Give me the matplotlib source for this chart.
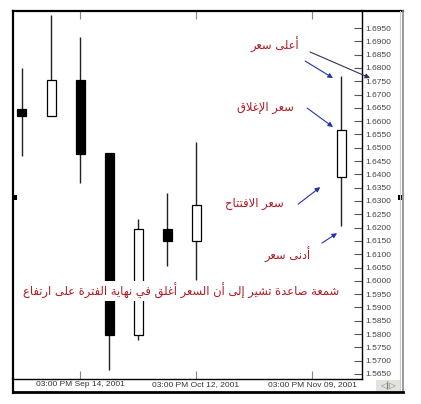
import matplotlib
matplotlib.use("Agg")
import matplotlib.pyplot as plt
from matplotlib.lines import Line2D
from matplotlib.patches import Rectangle

# =============================================================================
# Data (weekly candles, x = week number counted from the first bar)

weeks = [0, 1, 2, 3, 4, 5, 6, 11]
opens = [1.6645, 1.6619, 1.6755, 1.6480, 1.5796, 1.6194, 1.6149, 1.6390]
highs = [1.6800, 1.6999, 1.6916, 1.6480, 1.6232, 1.6330, 1.6521, 1.6770]
lows = [1.6469, 1.6619, 1.6367, 1.5665, 1.5778, 1.6055, 1.6003, 1.6206]
closes = [1.6619, 1.6755, 1.6476, 1.5796, 1.6194, 1.6149, 1.6285, 1.6567]

date_weeks = [2, 6, 10]
date_labels = ["03:00 PM Sep 14, 2001", "03:00 PM Oct 12, 2001", "03:00 PM Nov 09, 2001"]

price_ticks = [1.5650 + 0.005 * k for k in range(27)]

LBL_HIGH = "أعلى سعر"
LBL_CLOSE = "سعر الإغلاق"
LBL_OPEN = "سعر الافتتاح"
LBL_LOW = "أدنى سعر"
LBL_NOTE = "شمعة صاعدة تشير إلى أن السعر أغلق في نهاية الفترة على ارتفاع"

# =============================================================================
# Minimal Arabic shaping (matplotlib has no shaping / RTL support)

AR_FORMS = {
    "ا": (0xFE8D, 0xFE8E),
    "أ": (0xFE83, 0xFE84),
    "إ": (0xFE87, 0xFE88),
    "ة": (0xFE93, 0xFE94),
    "د": (0xFEA9, 0xFEAA),
    "ر": (0xFEAD, 0xFEAE),
    "ى": (0xFEEF, 0xFEF0),
    "ت": (0xFE95, 0xFE96, 0xFE97, 0xFE98),
    "ح": (0xFEA1, 0xFEA2, 0xFEA3, 0xFEA4),
    "س": (0xFEB1, 0xFEB2, 0xFEB3, 0xFEB4),
    "ش": (0xFEB5, 0xFEB6, 0xFEB7, 0xFEB8),
    "ص": (0xFEB9, 0xFEBA, 0xFEBB, 0xFEBC),
    "ع": (0xFEC9, 0xFECA, 0xFECB, 0xFECC),
    "غ": (0xFECD, 0xFECE, 0xFECF, 0xFED0),
    "ف": (0xFED1, 0xFED2, 0xFED3, 0xFED4),
    "ق": (0xFED5, 0xFED6, 0xFED7, 0xFED8),
    "ل": (0xFEDD, 0xFEDE, 0xFEDF, 0xFEE0),
    "م": (0xFEE1, 0xFEE2, 0xFEE3, 0xFEE4),
    "ن": (0xFEE5, 0xFEE6, 0xFEE7, 0xFEE8),
    "ه": (0xFEE9, 0xFEEA, 0xFEEB, 0xFEEC),
    "ي": (0xFEF1, 0xFEF2, 0xFEF3, 0xFEF4),
}
LAM_ALEF = {"ا": (0xFEFB, 0xFEFC), "أ": (0xFEF7, 0xFEF8), "إ": (0xFEF9, 0xFEFA)}


def shape_arabic(text):
    "Joins the letters into presentation forms and reverses to visual order"
    tokens = []
    i = 0
    while i < len(text):
        if text[i] == "ل" and i + 1 < len(text) and text[i + 1] in LAM_ALEF:
            tokens.append(("LA", text[i + 1]))
            i += 2
        else:
            tokens.append((text[i], None))
            i += 1

    def dual(t):
        return t is not None and t[0] in AR_FORMS and len(AR_FORMS[t[0]]) == 4

    def joins(t):
        return t is not None and (t[0] == "LA" or t[0] in AR_FORMS)

    out = []
    for k, t in enumerate(tokens):
        prev = tokens[k - 1] if k > 0 else None
        nxt = tokens[k + 1] if k + 1 < len(tokens) else None
        after = dual(prev) and joins(t)
        if t[0] == "LA":
            out.append(chr(LAM_ALEF[t[1]][1 if after else 0]))
        elif t[0] in AR_FORMS:
            forms = AR_FORMS[t[0]]
            before = dual(t) and joins(nxt)
            if len(forms) == 2:
                out.append(chr(forms[1 if after else 0]))
            else:
                idx = 3 if (after and before) else 1 if after else 2 if before else 0
                out.append(chr(forms[idx]))
        else:
            out.append(t[0])
    return "".join(reversed(out))


# =============================================================================
# Plot

W, H = 421, 404
fg = plt.figure(figsize=(W / 100, H / 100), dpi=100)
ax = fg.add_axes([13 / W, 25 / H, 349 / W, 368 / H])

BODY_W = 0.31
ax.vlines(weeks, lows, highs, color="#222222", lw=1, zorder=1)
for w, o, c in zip(weeks, opens, closes):
    ax.bar(
        w,
        abs(c - o),
        bottom=min(o, c),
        width=BODY_W,
        color="white" if c > o else "black",
        edgecolor="black",
        lw=0.9,
        zorder=2,
    )

ax.set_xlim(-0.31, 11.72)
ax.set_ylim(1.5631, 1.7014)

ax.set_xticks(date_weeks)
ax.set_xticklabels(date_labels, fontfamily="Liberation Sans")
ax.tick_params(
    axis="x", direction="in", length=6, top=True, color="#888888",
    labelsize=6, labelcolor="#333333", pad=1.5,
)

ax.yaxis.tick_right()
ax.set_yticks(price_ticks)
ax.set_yticklabels([f"{p:.4f}" for p in price_ticks], fontfamily="Liberation Sans")
ax.tick_params(
    axis="y", direction="in", length=6, color="#555555",
    labelsize=6, labelcolor="#444444", pad=2.5,
)

for side, lw in [("left", 1.6), ("top", 1.6), ("right", 1.0), ("bottom", 1.0)]:
    ax.spines[side].set_linewidth(lw)
    ax.spines[side].set_color("black")

# -----------------------------------------------------------------------------
# Annotations

RED = "#b01a22"
BLUE = "#2233b0"
ARFONT = "DejaVu Sans"
ARSIZE = 8.3

ax.text(8.72, 1.6886, shape_arabic(LBL_HIGH), color=RED, fontsize=ARSIZE,
        family=ARFONT, ha="center", va="center")
ax.text(8.38, 1.6653, shape_arabic(LBL_CLOSE), color=RED, fontsize=ARSIZE,
        family=ARFONT, ha="center", va="center")
ax.text(8.0, 1.6292, shape_arabic(LBL_OPEN), color=RED, fontsize=ARSIZE,
        family=ARFONT, ha="center", va="center")
ax.text(9.17, 1.6097, shape_arabic(LBL_LOW), color=RED, fontsize=ARSIZE,
        family=ARFONT, ha="center", va="center")
ax.text(5.48, 1.5961, shape_arabic(LBL_NOTE), color=RED, fontsize=ARSIZE,
        family=ARFONT, ha="center", va="center", zorder=5,
        bbox=dict(facecolor="white", edgecolor="none", pad=1.5))

last = len(weeks) - 1
arrows = [
    ((weeks[last] - 0.28, highs[last] - 0.0008), (9.76, 1.6826), BLUE),
    ((12.0, highs[last] - 0.0008), (9.93, 1.6860), "#333355"),
    ((weeks[last] - 0.28, closes[last] + 0.0011), (9.83, 1.6649), BLUE),
    ((weeks[last] - 0.72, opens[last] - 0.0038), (9.52, 1.6288), BLUE),
    ((weeks[last] - 0.14, lows[last] - 0.0027), (10.34, 1.6142), BLUE),
]
for head, tail, col in arrows:
    ax.annotate(
        "", xy=head, xytext=tail, annotation_clip=False,
        arrowprops=dict(arrowstyle="-|>", color=col, lw=0.8, mutation_scale=7,
                        shrinkA=0, shrinkB=0),
    )

# -----------------------------------------------------------------------------
# Frame around the chart window


def fx(px):
    return px / W


def fy(py):
    return 1 - py / H


frame = [
    ([362, 403], [11, 11], "black", 1.6),
    ([403, 403], [11, 392], "#888888", 1.2),
    ([400, 400], [11, 392], "#cccccc", 0.8),
    ([13, 13], [379, 393], "black", 1.6),
    ([13, 403], [392, 392], "black", 2.0),
]
for xs, ys, col, lw in frame:
    fg.add_artist(Line2D([fx(x) for x in xs], [fy(y) for y in ys],
                         color=col, lw=lw, transform=fg.transFigure))

# scroll buttons and selection handles
fg.add_artist(Rectangle((fx(376), fy(391)), 24 / W, 11 / H, transform=fg.transFigure,
                        facecolor="#e4e2dc", edgecolor="none"))
fg.text(fx(388), fy(385.5), "◁|▷", fontsize=6, color="#777777",
        ha="center", va="center", family="DejaVu Sans")
for hx in [13, 398]:
    fg.add_artist(Rectangle((fx(hx), fy(200)), 4 / W, 5 / H, transform=fg.transFigure,
                            facecolor="black", edgecolor="none"))

fg.savefig("out.png", dpi=100)
